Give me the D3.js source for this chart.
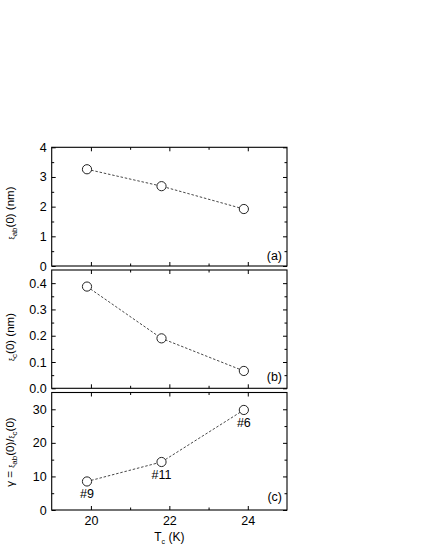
<!DOCTYPE html>
<html>
<head>
<meta charset="utf-8">
<script src="https://cdn.jsdelivr.net/npm/d3@7"></script>
<style>
  body { margin: 0; background: #fff; }
  text { font-family: "Liberation Sans", Arial, sans-serif; fill: #000; }
</style>
</head>
<body>
<div id="chart"></div>
<script>
(function () {
    'use strict';
    // values
    var tc = [19.9, 21.8, 23.9];
    var xiAb = [3.26, 2.69, 1.92];
    var xiC = [0.387, 0.19, 0.066];
    var gamma = [8.5, 14.3, 29.8];
    var sampleLabels = ['#9', '#11', '#6'];
    var panelTags = ['(a)', '(b)', '(c)'];
    var xTicks = [20, 22, 24];

    var width = 425, height = 550;
    var left = 51.7, right = 287;

    var svg = d3.select('#chart').append('svg')
        .attr('width', width)
        .attr('height', height);
    svg.append('rect').attr('width', width).attr('height', height).attr('fill', '#fff');

    var x = d3.scaleLinear().domain([19, 25]).range([left, right]);

    var panels = [
        { top: 147.3, bottom: 266, domain: [0, 4], major: [0, 1, 2, 3, 4], minor: d3.range(0.5, 4, 1), fmt: d3.format('d'), values: xiAb, tag: panelTags[0], tagY: 260, labelY: 213 },
        { top: 270, bottom: 388.3, domain: [0, 0.45], major: [0, 0.1, 0.2, 0.3, 0.4], minor: [0.05, 0.15, 0.25, 0.35], fmt: d3.format('.1f'), values: xiC, tag: panelTags[1], tagY: 381, labelY: 337 },
        { top: 392.5, bottom: 510, domain: [0, 35], major: [0, 10, 20, 30], minor: [5, 15, 25], fmt: d3.format('d'), values: gamma, tag: panelTags[2], tagY: 501, labelY: 452 }
    ];

    var tidy = function (g) {
        g.select('.domain').remove();
        g.selectAll('line').attr('stroke', '#000').attr('stroke-width', 1);
        g.selectAll('text').attr('font-size', 12.5).attr('fill', '#000')
            .style('font-family', '"Liberation Sans", Arial, sans-serif');
    };

    panels.forEach(function (p, i) {
        var y = d3.scaleLinear().domain(p.domain).range([p.bottom, p.top]);
        var g = svg.append('g');

        // left
        g.append('g').attr('transform', 'translate(' + left + ',0)')
            .call(d3.axisLeft(y).tickValues(p.major).tickFormat(p.fmt).tickSize(-4).tickPadding(5))
            .call(tidy);
        g.append('g').attr('transform', 'translate(' + left + ',0)')
            .call(d3.axisLeft(y).tickValues(p.minor).tickFormat('').tickSize(-2.5))
            .call(tidy);
        // right
        g.append('g').attr('transform', 'translate(' + right + ',0)')
            .call(d3.axisRight(y).tickValues(p.major).tickFormat('').tickSize(-4))
            .call(tidy);
        g.append('g').attr('transform', 'translate(' + right + ',0)')
            .call(d3.axisRight(y).tickValues(p.minor).tickFormat('').tickSize(-2.5))
            .call(tidy);
        // top
        g.append('g').attr('transform', 'translate(0,' + p.top + ')')
            .call(d3.axisTop(x).tickValues(xTicks).tickFormat('').tickSize(-4))
            .call(tidy);
        g.append('g').attr('transform', 'translate(0,' + p.top + ')')
            .call(d3.axisTop(x).tickValues([21, 23]).tickFormat('').tickSize(-2.5))
            .call(tidy);
        // bottom
        g.append('g').attr('transform', 'translate(0,' + p.bottom + ')')
            .call(d3.axisBottom(x).tickValues(xTicks)
                .tickFormat(i === 2 ? d3.format('d') : '').tickSize(-4).tickPadding(6))
            .call(tidy);
        g.append('g').attr('transform', 'translate(0,' + p.bottom + ')')
            .call(d3.axisBottom(x).tickValues([21, 23]).tickFormat('').tickSize(-2.5))
            .call(tidy);

        g.append('rect')
            .attr('x', left).attr('y', p.top)
            .attr('width', right - left).attr('height', p.bottom - p.top)
            .attr('fill', 'none').attr('stroke', '#000').attr('stroke-width', 1.1);

        var line = d3.line()
            .x(function (d, j) { return x(tc[j]); })
            .y(function (d) { return y(d); });
        g.append('path')
            .attr('d', line(p.values))
            .attr('fill', 'none')
            .attr('stroke', '#333')
            .attr('stroke-width', 0.9)
            .attr('stroke-dasharray', '2.5,1.8');

        g.selectAll('circle').data(p.values).enter()
            .append('circle')
            .attr('cx', function (d, j) { return x(tc[j]); })
            .attr('cy', function (d) { return y(d); })
            .attr('r', 4.6)
            .attr('fill', '#fff')
            .attr('stroke', '#222')
            .attr('stroke-width', 1);

        g.append('text')
            .attr('x', right - 5).attr('y', p.tagY)
            .attr('text-anchor', 'end')
            .attr('font-size', 12.5)
            .text(p.tag);

        if (i === 2) {
            g.selectAll('.sample').data(p.values).enter()
                .append('text')
                .attr('class', 'sample')
                .attr('x', function (d, j) { return x(tc[j]); })
                .attr('y', function (d) { return y(d) + 17; })
                .attr('text-anchor', 'middle')
                .attr('font-size', 12.5)
                .text(function (d, j) { return sampleLabels[j]; });
        }
    });

    // y axis titles
    var yTitle = function (yc, parts) {
        var t = svg.append('text')
            .attr('transform', 'translate(14,' + yc + ') rotate(-90)')
            .attr('text-anchor', 'middle')
            .attr('font-size', 11.5);
        parts.forEach(function (s) {
            var ts = t.append('tspan').text(s[0]);
            if (s[1]) ts.attr('font-size', s[1]);
            if (s[2]) ts.attr('dy', s[2]);
        });
    };
    yTitle(panels[0].labelY, [['ξ', 7], ['ab', 8, 3], ['(0) (nm)', null, -3]]);
    yTitle(panels[1].labelY, [['ξ', 7], ['c', 8, 3], ['(0) (nm)', null, -3]]);
    yTitle(panels[2].labelY, [['γ = ', null], ['ξ', 7], ['ab', 8, 3], ['(0)/', null, -3], ['ξ', 7], ['c', 8, 3], ['(0)', null, -3]]);

    // x axis title
    var xt = svg.append('text')
        .attr('x', x(22)).attr('y', 541)
        .attr('text-anchor', 'middle')
        .attr('font-size', 12);
    xt.append('tspan').text('T');
    xt.append('tspan').text('c').attr('font-size', 7).attr('dy', 3);
    xt.append('tspan').text(' (K)').attr('dy', -3);
}());
</script>
</body>
</html>
